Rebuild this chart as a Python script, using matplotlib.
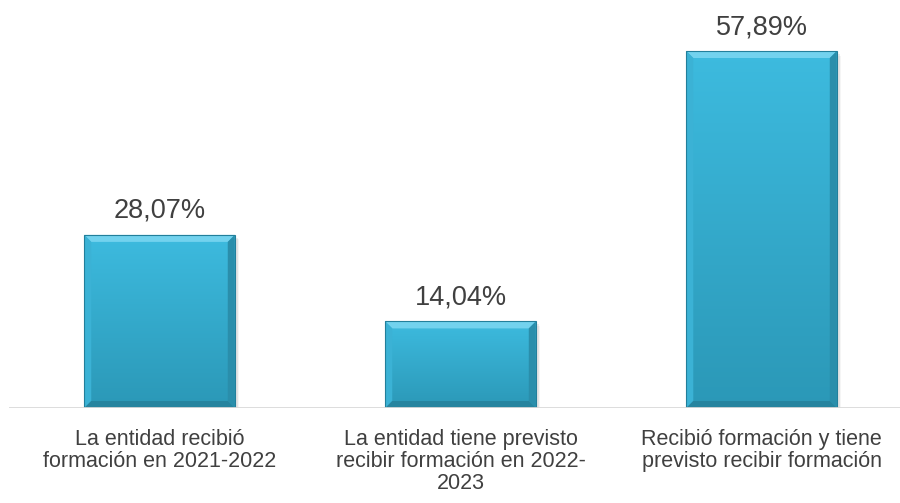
import matplotlib
matplotlib.use("Agg")
import matplotlib.pyplot as plt
import numpy as np
from matplotlib.patches import Polygon, Rectangle
from matplotlib.colors import LinearSegmentedColormap

categories = [
    "La entidad recibió\nformación en 2021-2022",
    "La entidad tiene previsto\nrecibir formación en 2022-\n2023",
    "Recibió formación y tiene\nprevisto recibir formación",
]
values = [28.07, 14.04, 57.89]
value_labels = ["28,07%", "14,04%", "57,89%"]

plt.rcParams["font.family"] = ["Liberation Sans", "DejaVu Sans"]

fig = plt.figure(figsize=(9.0, 5.03), dpi=100)
# axes spans from the left margin to the right edge, baseline at y=408px
ax = fig.add_axes([9 / 900, 1 - 408 / 503, 891 / 900, 408 / 503])
ax.set_xlim(-0.5, 2.46)
ax.set_ylim(0, 66.16)
ax.axis("off")

width = 0.5
x = np.arange(len(values))
body = LinearSegmentedColormap.from_list("body", ["#2b98b7", "#3dbbdf"])

# pixel -> data conversions for bevel sizes
px_x = (2.46 + 0.5) / 891
px_y = 66.16 / 408
bx, by = 7 * px_x, 7 * px_y

for xi, v in zip(x, values):
    x0, x1 = xi - width / 2, xi + width / 2
    # soft drop shadow
    for k, a in enumerate([0.10, 0.07, 0.04]):
        off = (k + 1) * 1.5
        ax.add_patch(Rectangle((x0 + off * px_x, -off * px_y), width, v,
                               color="black", alpha=a, lw=0, zorder=1))
    bar = ax.bar(xi, v, width=width, color="#35acd0", zorder=2)[0]
    grad = np.linspace(0, 1, 256).reshape(-1, 1)
    im = ax.imshow(grad, cmap=body, aspect="auto", origin="lower",
                   extent=(x0, x1, 0, v), zorder=3)
    im.set_clip_path(bar)
    # bevel edges
    top = Polygon([(x0, v), (x1, v), (x1 - bx, v - by), (x0 + bx, v - by)],
                  color="#72d2ee", lw=0, zorder=4)
    left = Polygon([(x0, 0), (x0, v), (x0 + bx, v - by), (x0 + bx, by)],
                   color="#3bb2d5", lw=0, zorder=4)
    right = Polygon([(x1, 0), (x1, v), (x1 - bx, v - by), (x1 - bx, by)],
                    color="#2a8eab", lw=0, zorder=4)
    bottom = Polygon([(x0, 0), (x1, 0), (x1 - bx, by), (x0 + bx, by)],
                     color="#26849f", lw=0, zorder=4)
    for p in (top, left, right, bottom):
        ax.add_patch(p)
    ax.add_patch(Rectangle((x0, 0), width, v, fill=False, ec="#227f9b",
                           lw=0.8, zorder=5))

for xi, v, lab in zip(x, values, value_labels):
    ax.text(xi, v + 17 * px_y, lab, ha="center", va="baseline", fontsize=19.5,
            color="#404040")

# baseline
ax.axhline(0, color="#d9d9d9", lw=2, zorder=6)

for xi, cat in zip(x, categories):
    ax.text(xi, -21 * px_y, cat, ha="center", va="top", fontsize=15.5,
            color="#404040", linespacing=1.07)

fig.savefig("out.png", dpi=100)
